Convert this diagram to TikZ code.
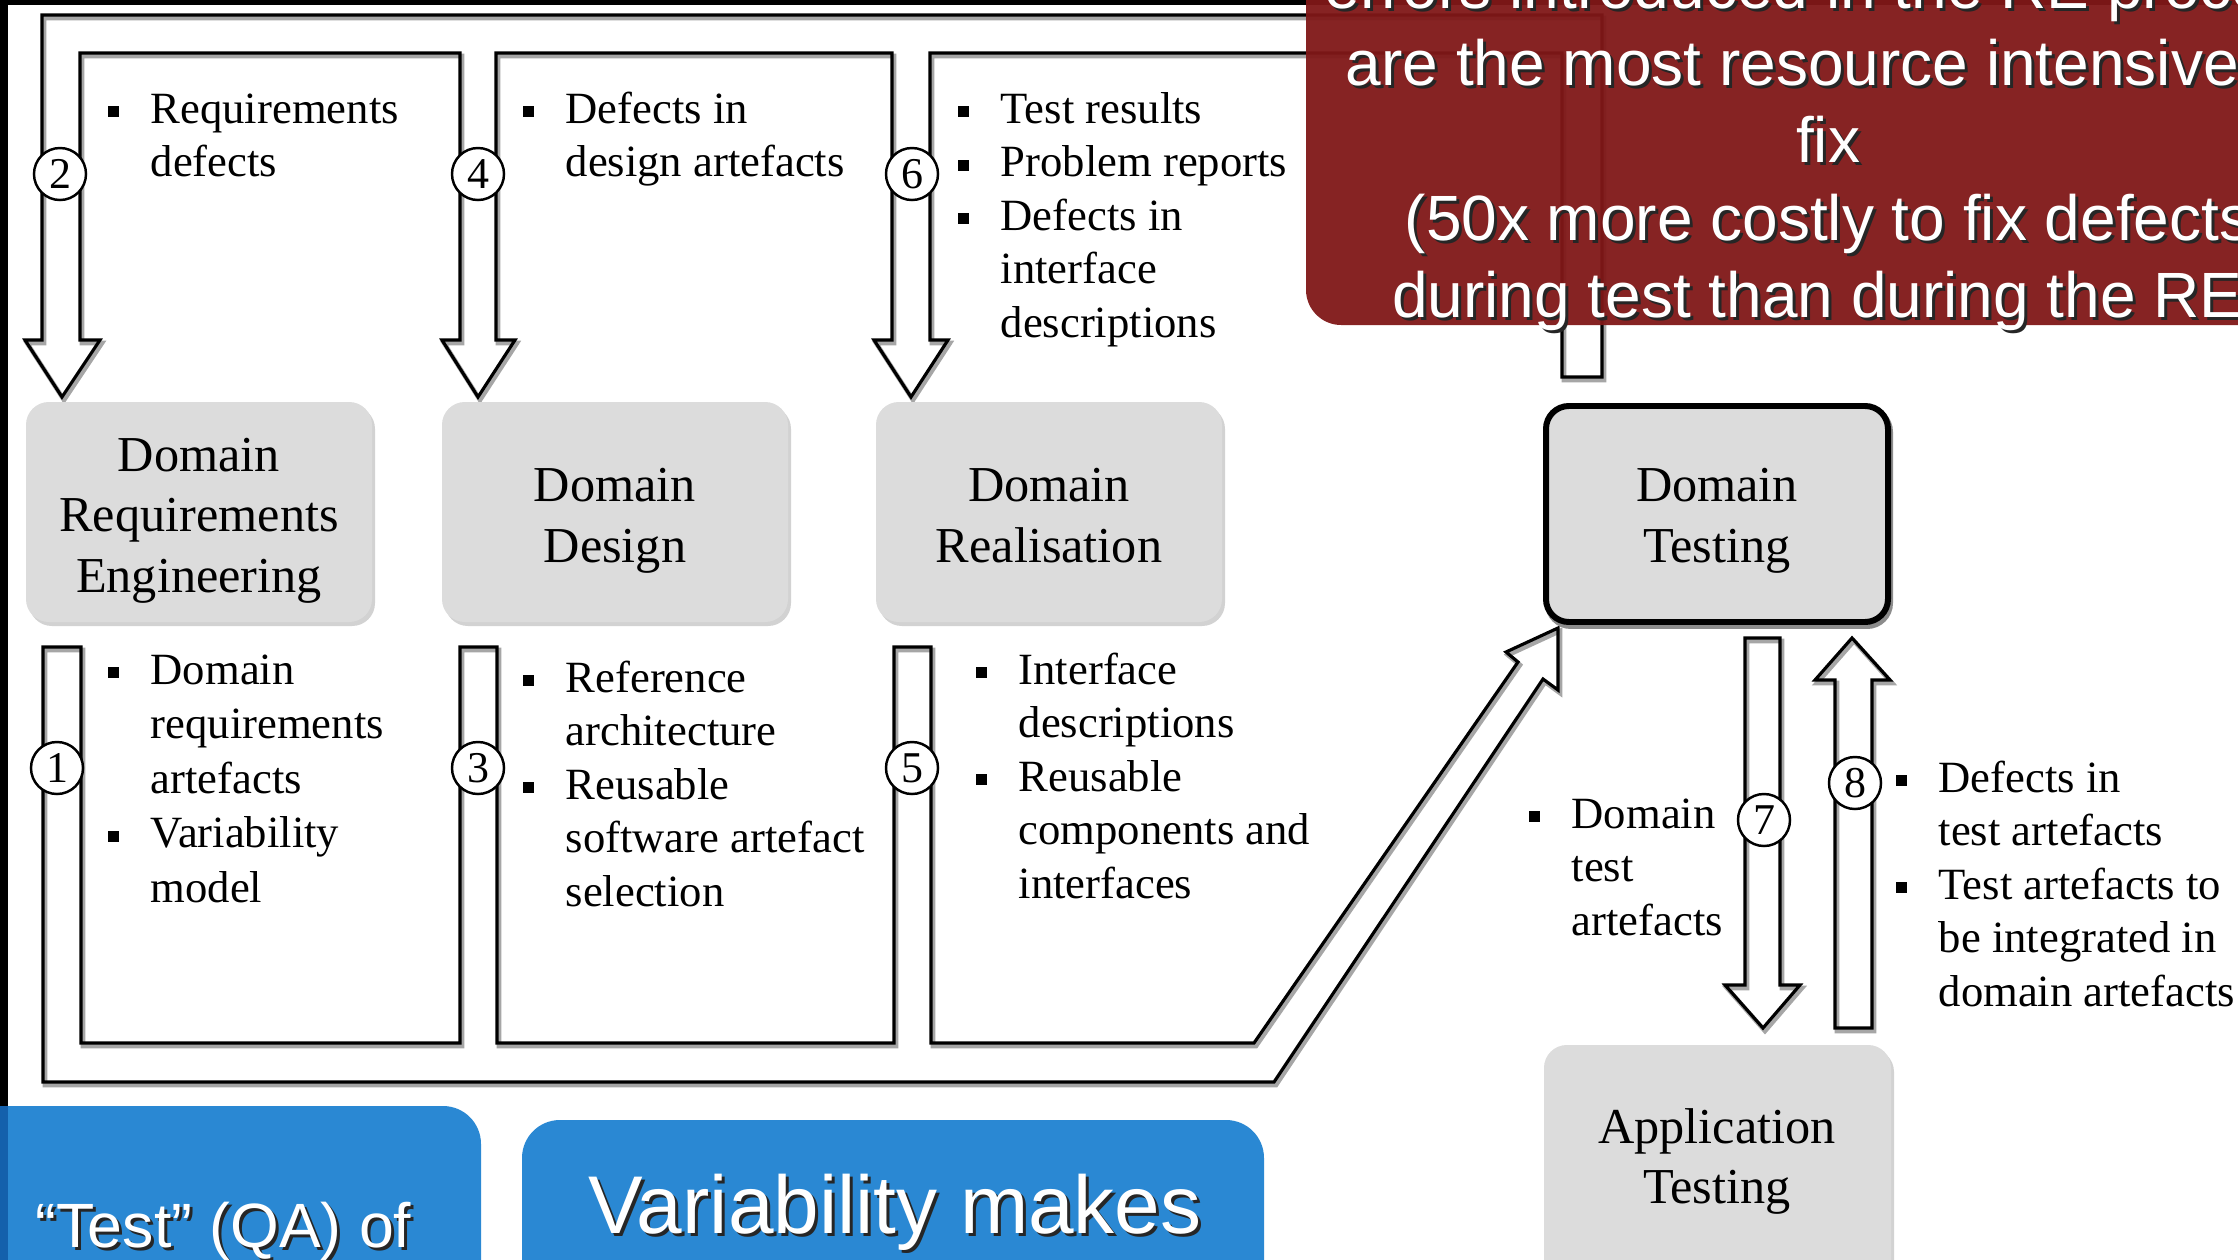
\documentclass[tikz,border=0pt]{standalone}
\usepackage{fontspec}
\setmainfont{Liberation Serif}
\newfontfamily\slidefont{Liberation Sans}
\definecolor{boxgray}{HTML}{DCDCDC}
\definecolor{slidered}{HTML}{801818}
\definecolor{slideblue}{HTML}{2A88D3}
\definecolor{edgeblue}{HTML}{1460AC}
\newcommand\bgroupl[5]{%
  \foreach \tline [count=\k] in {#5} {%
    \node[btxt] (#1-\k) at ({#2},{#3+(\k-1)*#4}) {\tline};}}
\newcommand\bul[2]{\fill[black] ({#1-42},{#2-17}) rectangle ++(11,11);}
\newcommand\stxt[5]{%
  \node[#4, text=black!85] (#1s) at ({#2+3},{#3+3}) {#5};
  \node[#4] (#1) at (#2,#3) {#5};}
\begin{document}
\begin{tikzpicture}[x=0.01cm,y=-0.01cm,
  band/.style={draw=black, line width=0.9pt, line join=miter},
  shade/.style={draw=black!35, line width=1.3pt, line join=miter},
  proc/.style={fill=boxgray, rounded corners=6.5pt},
  procshadow/.style={fill=black!35, rounded corners=6.5pt, opacity=0.5},
  boxtxt/.style={anchor=base, inner sep=0pt, font=\fontsize{14.3}{17}\selectfont},
  btxt/.style={anchor=base west, inner sep=0pt, font=\fontsize{12.7}{15}\selectfont},
  numc/.style={circle, draw=black, line width=0.7pt, fill=white, minimum size=0.52cm, inner sep=0pt, font=\fontsize{12.5}{14}\selectfont},
  redtxt/.style={anchor=base, inner sep=0pt, text=white, font=\slidefont\fontsize{18.2}{22}\selectfont},
  bluetxt/.style={inner sep=0pt, text=white, font=\slidefont\fontsize{17.8}{22}\selectfont},
  bigtxt/.style={anchor=base, inner sep=0pt, text=white, font=\slidefont\fontsize{23.3}{28}\selectfont},
]
\useasboundingbox (0,0) rectangle (2238,1260);
\begin{scope}
\clip (0,0) rectangle (2238,1260);
% slide background
\fill[black] (0,0) rectangle (2238,1260);
\fill[white] (8,5) rectangle (2238,1260);

% top feedback band (arrows 2,4,6)
\def\topband{(1562,377) -- (1602,377) -- (1602,15) -- (42,15) -- (42,340) -- (25,340) -- (62,397) -- (100,340) -- (80,340) -- (80,53) -- (460,53) -- (460,340) -- (442,340) -- (478,397) -- (515,340) -- (496,340) -- (496,53) -- (892,53) -- (892,340) -- (874,340) -- (911,397) -- (948,340) -- (930,340) -- (930,53) -- (1562,53) -- cycle}
\draw[shade, shift={(2,3)}] \topband;
\draw[band] \topband;

% bottom band (arrows 1,3,5 to Domain Testing)
\def\botband{(43,647) -- (43,1082) -- (1274,1082) -- (1543,679) -- (1558,690) -- (1558,628) -- (1506,652) -- (1518,662) -- (1254,1043) -- (931,1043) -- (931,647) -- (894,647) -- (894,1043) -- (497,1043) -- (497,647) -- (460,647) -- (460,1043) -- (81,1043) -- (81,647) -- cycle}
\draw[shade, shift={(2,3)}] \botband;
\draw[band] \botband;

% arrows 7 and 8
\def\arrseven{(1745,638) -- (1780,638) -- (1780,985) -- (1800,985) -- (1763,1028) -- (1725,985) -- (1745,985) -- cycle}
\def\arreight{(1835,1028) -- (1872,1028) -- (1872,680) -- (1890,680) -- (1852,638) -- (1815,680) -- (1835,680) -- cycle}
\draw[shade, shift={(2,3)}] \arrseven;
\draw[band] \arrseven;
\draw[shade, shift={(2,3)}] \arreight;
\draw[band] \arreight;

% process boxes
\fill[procshadow] (29,406) rectangle (375,626);
\fill[proc] (26,402) rectangle (372,622);
\fill[procshadow] (445,406) rectangle (791,626);
\fill[proc] (442,402) rectangle (788,622);
\fill[procshadow] (879,406) rectangle (1225,626);
\fill[proc] (876,402) rectangle (1222,622);
\fill[procshadow] (1547,1049) rectangle (1894,1300);
\fill[proc] (1544,1045) rectangle (1891,1300);
\draw[black!45, line width=1.7pt, rounded corners=6.5pt] (1548,409) rectangle (1890,626);
\draw[black, fill=boxgray, line width=1.7pt, rounded corners=6.5pt] (1546,406) rectangle (1888,622);

\node[boxtxt] (dre1) at (199,471) {Domain};
\node[boxtxt] (dre2) at (199,531) {Requirements};
\node[boxtxt] (dre3) at (199,592) {Engineering};
\node[boxtxt] (dd1) at (615,501) {Domain};
\node[boxtxt] (dd2) at (615,562) {Design};
\node[boxtxt] (dr1) at (1049,501) {Domain};
\node[boxtxt] (dr2) at (1049,562) {Realisation};
\node[boxtxt] (dt1) at (1717,501) {Domain};
\node[boxtxt] (dt2) at (1717,562) {Testing};
\node[boxtxt] (at1) at (1717,1143) {Application};
\node[boxtxt] (at2) at (1717,1203) {Testing};

% numbered circles
\node[numc] (n2) at (60,174) {2};
\node[numc] (n4) at (478,174) {4};
\node[numc] (n6) at (912,174) {6};
\node[numc] (n1) at (57,768) {1};
\node[numc] (n3) at (478,768) {3};
\node[numc] (n5) at (912,768) {5};
\node[numc] (n7) at (1764,820) {7};
\node[numc] (n8) at (1855,783) {8};

% bullet texts
\bgroupl{g2}{150}{123}{53.5}{Requirements,defects}
\bul{150}{123}
\bgroupl{g4}{565}{123}{53.5}{Defects in,design artefacts}
\bul{565}{123}
\bgroupl{g6}{1000}{123}{53.5}{Test results,Problem reports,Defects in,interface,descriptions}
\bul{1000}{123}\bul{1000}{176.5}\bul{1000}{230}
\bgroupl{g1}{150}{684}{54.5}{Domain,requirements,artefacts,Variability,model}
\bul{150}{684}\bul{150}{847.5}
\bgroupl{g3}{565}{692}{53.5}{Reference,architecture,Reusable,software artefact,selection}
\bul{565}{692}\bul{565}{799}
\bgroupl{g5}{1018}{684}{53.5}{Interface,descriptions,Reusable,components and,interfaces}
\bul{1018}{684}\bul{1018}{791}
\bgroupl{g7}{1571}{828}{53.5}{Domain,test,artefacts}
\bul{1571}{828}
\bgroupl{g8}{1938}{792}{53.5}{Defects in,test artefacts,Test artefacts to,be integrated in,domain artefacts}
\bul{1938}{792}\bul{1938}{899}

% red callout
\fill[slidered, opacity=0.95, rounded corners=10pt] (1306,-60) rectangle (2320,325);
\stxt{r1}{1828}{8}{redtxt}{errors introduced in the RE process}
\stxt{r2}{1828}{85}{redtxt}{are the most resource intensive to}
\stxt{r3}{1828}{162}{redtxt}{fix}
\stxt{r4}{1828}{240}{redtxt}{(50x more costly to fix defects}
\stxt{r5}{1828}{317}{redtxt}{during test than during the RE)}

% blue boxes
\fill[slideblue, rounded corners=10.8pt] (-60,1106) rectangle (481,1330);
\fill[edgeblue] (0,1106) rectangle (8,1260);
\fill[slideblue, rounded corners=10.8pt] (522,1120) rectangle (1264,1330);
\stxt{b1}{35}{1247}{bluetxt, anchor=base west}{“Test” (QA) of}
\stxt{b2}{895}{1233}{bigtxt}{Variability makes}
\end{scope}
\end{tikzpicture}
\end{document}
